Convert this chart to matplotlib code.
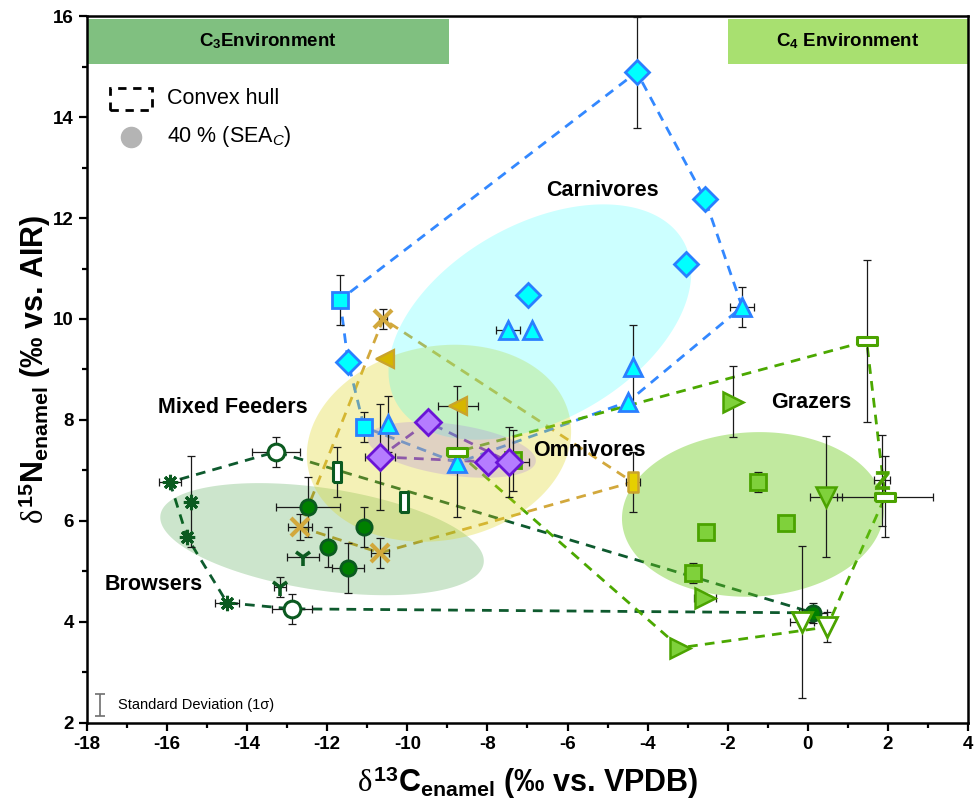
import numpy as np
import matplotlib.pyplot as plt
from matplotlib.patches import Rectangle
from matplotlib.lines import Line2D

plt.rcParams['font.family'] = ['Liberation Sans', 'DejaVu Sans']
plt.rcParams['axes.unicode_minus'] = False
plt.rcParams['mathtext.fontset'] = 'custom'
plt.rcParams['mathtext.rm'] = 'Liberation Sans:bold'
plt.rcParams['mathtext.bf'] = 'Liberation Sans:bold'
plt.rcParams['mathtext.it'] = 'Liberation Serif'
plt.rcParams['mathtext.sf'] = 'Liberation Sans:italic'

# ---- data (d13C, d15N, sd x, sd y) ----
# Browsers
br_circ_x = [-12.48, -11.98, -11.48, -11.08, 0.14]
br_circ_y = [6.28, 5.49, 5.07, 5.88, 4.18]
br_circ_xe = [0.8, 0, 0.4, 0, 0.35]
br_circ_ye = [0.6, 0.4, 0.5, 0.4, 0.2]
br_ocirc_x = [-13.28, -12.88]
br_ocirc_y = [7.37, 4.26]
br_ocirc_xe = [0.6, 0.5]
br_ocirc_ye = [0.3, 0.3]
br_star_x = [-15.93, -15.40, -15.50, -14.50]
br_star_y = [6.77, 6.38, 5.68, 4.38]
br_star_xe = [0.27, 0, 0, 0.3]
br_star_ye = [0, 0.9, 0, 0]
br_tri_x = [-12.60, -13.18]
br_tri_y = [5.29, 4.69]
br_tri_xe = [0.4, 0.15]
br_tri_ye = [0, 0.2]
br_rect_x = [-11.76, -10.08]
br_rect_y = [6.97, 6.38]
br_rect_xe = [0.1, 0]
br_rect_ye = [0.5, 0]

# Mixed feeders
mf_x_x = [-10.60, -12.68, -10.68]
mf_x_y = [10.0, 5.88, 5.37]
mf_x_xe = [0.1, 0.3, 0.23]
mf_x_ye = [0.2, 0.25, 0.3]
mf_tri_x = [-10.55, -8.74]
mf_tri_y = [9.20, 8.28]
mf_tri_xe = [0, 0.5]
mf_tri_ye = [0, 0]
mf_rect_x = [-4.37]
mf_rect_y = [6.77]
mf_rect_xe = [0.18]
mf_rect_ye = [0.6]

# Omnivores
om_x = [-9.49, -10.68, -7.99, -7.46]
om_y = [7.96, 7.27, 7.17, 7.17]
om_xe = [0, 0.37, 0, 0.5]
om_ye = [0, 1.05, 0, 0.7]

# Carnivores
ca_sq_x = [-11.68, -11.08]
ca_sq_y = [10.38, 7.86]
ca_sq_xe = [0, 0]
ca_sq_ye = [0.5, 0.3]
ca_dia_x = [-11.48, -4.27, -2.57, -3.04, -6.99]
ca_dia_y = [9.15, 14.89, 12.38, 11.09, 10.48]
ca_dia_xe = [0, 0, 0, 0, 0.1]
ca_dia_ye = [0, 1.1, 0, 0, 0]
ca_tri_x = [-10.48, -8.76, -1.64, -7.49, -6.89, -4.37, -4.49]
ca_tri_y = [7.92, 7.15, 10.24, 9.78, 9.78, 9.05, 8.36]
ca_tri_xe = [0, 0, 0.3, 0.3, 0, 0, 0]
ca_tri_ye = [0.55, 0, 0.4, 0, 0, 0.83, 0]

# Grazers
gr_sq_x = [-1.25, -0.55, -2.55, -2.87, -7.35]
gr_sq_y = [6.77, 5.96, 5.78, 4.97, 7.20]
gr_sq_xe = [0, 0, 0, 0, 0]
gr_sq_ye = [0.2, 0, 0, 0.2, 0.6]
gr_rt_x = [-1.87, -2.57, -3.19]
gr_rt_y = [8.36, 4.48, 3.49]
gr_rt_xe = [0, 0.28, 0]
gr_rt_ye = [0.7, 0, 0]
gr_dn_x = [0.45]
gr_dn_y = [6.48]
gr_dn_xe = [0.4]
gr_dn_ye = [1.2]
gr_odn_x = [-0.15, 0.48]
gr_odn_y = [4.0, 3.9]
gr_odn_xe = [0.3, 0]
gr_odn_ye = [1.5, 0.3]
gr_rect_x = [-8.76, 1.47, 1.93]
gr_rect_y = [7.37, 9.56, 6.48]
gr_rect_xe = [0, 0, 1.2]
gr_rect_ye = [1.3, 1.6, 0.8]
gr_z_x = [1.85]
gr_z_y = [6.81]
gr_z_xe = [0.2]
gr_z_ye = [0.9]

# SEA_C ellipses: centre x, centre y, half-extent x, half-extent y, correlation
sea_browsers = (-12.13, 5.64, 4.04, 1.11, -0.39)
sea_mixed = (-9.21, 7.54, 3.30, 1.95, 0.12)
sea_omnivores = (-8.89, 7.41, 2.10, 0.554, -0.39)
sea_carnivores = (-6.69, 9.94, 3.78, 2.33, 0.42)
sea_grazers = (-1.37, 6.13, 3.27, 1.63, 0.05)

# colours
c_br_edge, c_br_fill, c_br_hull = '#0b5a20', '#008000', '#0e5a2e'
c_mf = '#d2a83c'
c_om_edge, c_om_fill, c_om_hull = '#6a14d6', '#b57cff', '#5a10d0'
c_ca_edge, c_ca_fill, c_ca_hull = '#2a7fff', '#00ffff', '#3388ff'
c_gr_edge, c_gr_fill, c_gr_hull = '#4ba300', '#7fd13b', '#4ba800'

TALL_RECT = [(-0.45, -1), (0.45, -1), (0.45, 1), (-0.45, 1), (-0.45, -1)]
WIDE_RECT = [(-1, -0.42), (1, -0.42), (1, 0.42), (-1, 0.42), (-1, -0.42)]


def convex_hull(xs, ys):
    pts = sorted(set(zip(xs, ys)))

    def cross(o, a, b):
        return (a[0] - o[0]) * (b[1] - o[1]) - (a[1] - o[1]) * (b[0] - o[0])

    lower, upper = [], []
    for p in pts:
        while len(lower) >= 2 and cross(lower[-2], lower[-1], p) <= 0:
            lower.pop()
        lower.append(p)
    for p in reversed(pts):
        while len(upper) >= 2 and cross(upper[-2], upper[-1], p) <= 0:
            upper.pop()
        upper.append(p)
    hull = lower[:-1] + upper[:-1]
    hull.append(hull[0])
    return [p[0] for p in hull], [p[1] for p in hull]


def sea_outline(cx, cy, sx, sy, rho):
    t = np.linspace(0, 2 * np.pi, 300)
    x = cx + sx * np.cos(t)
    y = cy + sy * (rho * np.cos(t) + np.sqrt(1 - rho ** 2) * np.sin(t))
    return x, y


def errbars(ax, x, y, xe, ye, color='#1a1a1a'):
    x, y, xe, ye = map(np.asarray, (x, y, xe, ye))
    m = xe > 0
    if m.any():
        ax.errorbar(x[m], y[m], xerr=xe[m], fmt='none', ecolor=color,
                    elinewidth=0.9, capsize=2.6, capthick=0.9, zorder=4)
    m = ye > 0
    if m.any():
        ax.errorbar(x[m], y[m], yerr=ye[m], fmt='none', ecolor=color,
                    elinewidth=0.9, capsize=2.6, capthick=0.9, zorder=4)


def pts(ax, x, y, xe, ye, marker, ms, mfc, mec, mew=1.6):
    errbars(ax, x, y, xe, ye)
    ax.plot(x, y, linestyle='none', marker=marker, ms=ms, mfc=mfc, mec=mec,
            mew=mew, zorder=5)


fig, ax = plt.subplots(figsize=(9.74, 8.05), dpi=100)
fig.subplots_adjust(left=0.0893, right=0.9938, bottom=0.1019, top=0.9801)

# convex hulls (drawn below the ellipses)
groups = [
    (br_circ_x + br_ocirc_x + br_star_x + br_tri_x + br_rect_x,
     br_circ_y + br_ocirc_y + br_star_y + br_tri_y + br_rect_y, c_br_hull),
    (mf_x_x + mf_tri_x + mf_rect_x, mf_x_y + mf_tri_y + mf_rect_y, c_mf),
    (om_x, om_y, c_om_hull),
    (ca_sq_x + ca_dia_x + ca_tri_x, ca_sq_y + ca_dia_y + ca_tri_y, c_ca_hull),
    (gr_sq_x + gr_rt_x + gr_dn_x + gr_odn_x + gr_rect_x + gr_z_x,
     gr_sq_y + gr_rt_y + gr_dn_y + gr_odn_y + gr_rect_y + gr_z_y, c_gr_hull),
]
for gx, gy, col in groups:
    hx, hy = convex_hull(gx, gy)
    ax.plot(hx, hy, color=col, lw=2.0, dashes=(3.5, 2.6), zorder=1)

# SEA ellipses
for params, col, alpha in [(sea_browsers, '#008000', 0.2),
                           (sea_mixed, '#ded61e', 0.32),
                           (sea_carnivores, '#00ffff', 0.2),
                           (sea_omnivores, '#a878e6', 0.25),
                           (sea_grazers, '#6ccc1a', 0.42)]:
    ex, ey = sea_outline(*params)
    ax.fill(ex, ey, color=col, alpha=alpha, lw=0, zorder=2)

# environment bands
ax.add_patch(Rectangle((-18, 15.05), 9.05, 0.89, color='#80c080', lw=0, zorder=1))
ax.add_patch(Rectangle((-2, 15.05), 6, 0.89, color='#a8e070', lw=0, zorder=1))
ax.text(-13.475, 15.5, 'C$_3$Environment', ha='center', va='center',
        fontsize=13.5, fontweight='bold', zorder=6)
ax.text(1.0, 15.5, 'C$_4$ Environment', ha='center', va='center',
        fontsize=13.5, fontweight='bold', zorder=6)

# points
pts(ax, br_circ_x, br_circ_y, br_circ_xe, br_circ_ye, 'o', 11, c_br_fill, c_br_edge, 2)
pts(ax, br_ocirc_x, br_ocirc_y, br_ocirc_xe, br_ocirc_ye, 'o', 12, 'white', c_br_edge, 2.2)
pts(ax, br_star_x, br_star_y, br_star_xe, br_star_ye, (8, 2, 0), 11, c_br_fill, c_br_edge, 2.2)
pts(ax, br_tri_x, br_tri_y, br_tri_xe, br_tri_ye, '1', 13, c_br_edge, c_br_edge, 2.6)
pts(ax, br_rect_x, br_rect_y, br_rect_xe, br_rect_ye, TALL_RECT, 14, 'white', c_br_edge, 2.2)

pts(ax, mf_x_x, mf_x_y, mf_x_xe, mf_x_ye, 'x', 13, c_mf, c_mf, 3)
pts(ax, mf_tri_x, mf_tri_y, mf_tri_xe, mf_tri_ye, '<', 13, '#d6b600', '#c9a32e', 1.6)
pts(ax, mf_rect_x, mf_rect_y, mf_rect_xe, mf_rect_ye, TALL_RECT, 15, '#e6d000', '#c9a32e', 1.8)

pts(ax, ca_sq_x, ca_sq_y, ca_sq_xe, ca_sq_ye, 's', 12, c_ca_fill, c_ca_edge, 2)
pts(ax, ca_tri_x, ca_tri_y, ca_tri_xe, ca_tri_ye, '^', 13, c_ca_fill, c_ca_edge, 2)
pts(ax, ca_dia_x, ca_dia_y, ca_dia_xe, ca_dia_ye, 'D', 12.5, c_ca_fill, c_ca_edge, 2)

pts(ax, gr_sq_x, gr_sq_y, gr_sq_xe, gr_sq_ye, 's', 12, c_gr_fill, c_gr_edge, 2)
pts(ax, gr_rt_x, gr_rt_y, gr_rt_xe, gr_rt_ye, '>', 14, c_gr_fill, c_gr_edge, 1.8)
pts(ax, gr_dn_x, gr_dn_y, gr_dn_xe, gr_dn_ye, 'v', 14, c_gr_fill, c_gr_edge, 1.8)
pts(ax, gr_odn_x, gr_odn_y, gr_odn_xe, gr_odn_ye, 'v', 14, 'white', c_gr_edge, 2)
pts(ax, gr_rect_x, gr_rect_y, gr_rect_xe, gr_rect_ye, WIDE_RECT, 15, 'white', c_gr_edge, 2.2)
pts(ax, gr_z_x, gr_z_y, gr_z_xe, gr_z_ye, '$\\mathrm{Z}$', 13, c_gr_edge, c_gr_edge, 0.5)

pts(ax, om_x, om_y, om_xe, om_ye, 'D', 13, c_om_fill, c_om_edge, 2)

# group labels
for txt, lx, ly in [('Carnivores', -5.14, 12.55), ('Mixed Feeders', -14.35, 8.24),
                    ('Omnivores', -5.45, 7.39), ('Grazers', 0.08, 8.34),
                    ('Browsers', -16.33, 4.75)]:
    ax.text(lx, ly, txt, ha='center', va='center', fontsize=15.5,
            fontweight='bold', zorder=6)

# legend (drawn by hand)
ax.add_patch(Rectangle((0.026, 0.867), 0.048, 0.031, transform=ax.transAxes,
                       fill=False, ec='black', lw=2, ls=(0, (3, 2.4)), zorder=6))
ax.text(0.091, 0.883, 'Convex hull', transform=ax.transAxes, fontsize=15.5,
        va='center', ha='left')
ax.add_line(Line2D([0.050], [0.829], transform=ax.transAxes, marker='o', ms=14.5,
                   mfc='#b4b4b4', mec='#b4b4b4', linestyle='none'))
ax.text(0.091, 0.829, '40 % (SEA$_{\\mathsf{C}}$)', transform=ax.transAxes,
        fontsize=15.5, va='center', ha='left')

# standard deviation key
ax.errorbar([0.0148], [0.0255], yerr=[0.0155], transform=ax.transAxes, fmt='none',
            ecolor='#6e6e6e', elinewidth=1.2, capsize=3.5, capthick=1.2)
ax.text(0.035, 0.0255, 'Standard Deviation (1σ)', transform=ax.transAxes,
        fontsize=10.5, va='center', ha='left')

# axes
ax.set_xlim(-18, 4)
ax.set_ylim(2, 16)
ax.set_xticks(np.arange(-18, 5, 2))
ax.set_yticks(np.arange(2, 17, 2))
ax.set_xticks(np.arange(-17, 4, 2), minor=True)
ax.set_yticks(np.arange(3, 16, 2), minor=True)
ax.tick_params(which='major', direction='out', length=6, width=1.6, labelsize=13.5)
ax.tick_params(which='minor', direction='out', length=3.5, width=1.6)
for lab in ax.get_xticklabels() + ax.get_yticklabels():
    lab.set_fontweight('bold')
for sp in ax.spines.values():
    sp.set_linewidth(1.8)

ax.set_xlabel('$\\delta^{13}$C$_{\\mathrm{enamel}}$ (‰ vs. VPDB)', fontsize=22,
              fontweight='bold', labelpad=8)
ax.set_ylabel('$\\delta^{15}$N$_{\\mathrm{enamel}}$ (‰ vs. AIR)', fontsize=22,
              fontweight='bold', labelpad=0)

fig.savefig('out.png', dpi=100)
plt.close(fig)
